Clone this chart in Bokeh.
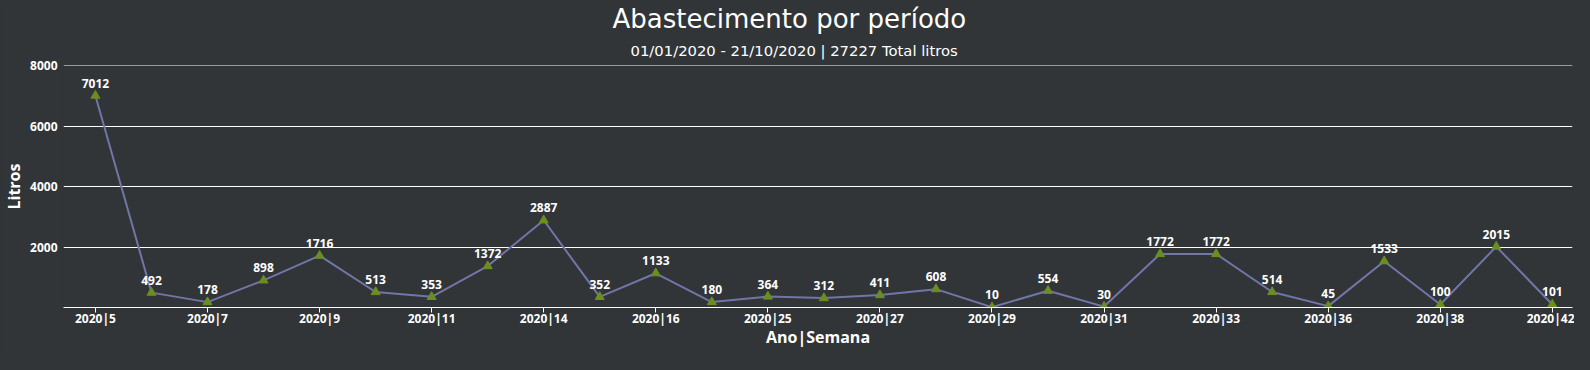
from bokeh.plotting import figure
from bokeh.models import Title, FixedTicker, Range1d, ColumnDataSource
from bokeh.core.properties import value
from bokeh.embed import file_html
from bokeh.resources import INLINE

title = "Abastecimento por período"
subtitle = "01/01/2020 - 21/10/2020 | 27227 Total litros"
x_title = "Ano|Semana"
y_title = "Litros"

categories = ["2020|5", "2020|6", "2020|7", "2020|8", "2020|9", "2020|10", "2020|11",
              "2020|13", "2020|14", "2020|15", "2020|16", "2020|17", "2020|25", "2020|26",
              "2020|27", "2020|28", "2020|29", "2020|30", "2020|31", "2020|32", "2020|33",
              "2020|34", "2020|36", "2020|37", "2020|38", "2020|40", "2020|42"]
litros = [7012, 492, 178, 898, 1716, 513, 353, 1372, 2887, 352, 1133, 180, 364, 312,
          411, 608, 10, 554, 30, 1772, 1772, 514, 45, 1533, 100, 2015, 101]
y_ticks = [2000, 4000, 6000, 8000]

BG = "#313538"
FONT = "Open Sans"
TFONT = "DejaVu Sans"

xs = list(range(len(categories)))
src = ColumnDataSource(dict(x=xs, y=litros, lbl=[str(v) for v in litros]))

p = figure(width=1574, height=354, output_backend="svg", toolbar_location=None,
           x_range=Range1d(-0.57, 26.36), y_range=Range1d(0, 8010),
           min_border_left=62, min_border_right=2, min_border_top=65, min_border_bottom=47,
           background_fill_color=BG, border_fill_color=BG, outline_line_color=None)

p.title.text = title
p.title.align = "left"
p.title.vertical_align = "top"
p.title.offset = 549
p.title.text_color = "white"
p.title.text_font_size = "26px"
p.title.text_font_style = "normal"
p.title.text_font = TFONT
p.title.standoff = 4
p.add_layout(Title(text=subtitle, align="left", vertical_align="top", offset=567,
                   text_color="white", text_font_size="14.8px", text_font_style="normal",
                   text_font=TFONT, standoff=9), "above")

p.line("x", "y", source=src, line_color="#7175a8", line_width=2)
p.scatter("x", "y", source=src, marker="triangle", size=9, fill_color="#6b8e23",
          line_color="#6b8e23")
p.text("x", "y", text="lbl", source=src, y_offset=-8, text_align="center",
       text_baseline="bottom", text_color="white", text_font_size="12px",
       text_font_style="bold", text_font=value(FONT))

# axes
p.xaxis.ticker = FixedTicker(ticks=xs[::2])
p.xaxis.major_label_overrides = {i: categories[i] for i in xs}
p.xaxis.axis_line_color = "white"
p.xaxis.major_tick_line_color = "white"
p.xaxis.major_tick_out = 5
p.xaxis.major_tick_in = 0
p.xaxis.minor_tick_line_color = None
p.xaxis.major_label_standoff = -3
p.xaxis.major_label_text_color = "white"
p.xaxis.major_label_text_font_size = "12px"
p.xaxis.major_label_text_font_style = "bold"
p.xaxis.major_label_text_font = FONT
p.xaxis.axis_label = x_title
p.xaxis.axis_label_text_color = "white"
p.xaxis.axis_label_text_font_size = "16px"
p.xaxis.axis_label_text_font_style = "bold"
p.xaxis.axis_label_text_font = FONT
p.xaxis.axis_label_standoff = -4

p.yaxis.ticker = FixedTicker(ticks=y_ticks)
p.yaxis.axis_line_color = None
p.yaxis.major_tick_line_color = None
p.yaxis.minor_tick_line_color = None
p.yaxis.major_tick_out = 0
p.yaxis.major_label_standoff = 6
p.yaxis.major_label_text_color = "white"
p.yaxis.major_label_text_font_size = "12px"
p.yaxis.major_label_text_font_style = "bold"
p.yaxis.major_label_text_font = FONT
p.yaxis.axis_label = y_title
p.yaxis.axis_label_text_color = "white"
p.yaxis.axis_label_text_font_size = "16px"
p.yaxis.axis_label_text_font_style = "bold"
p.yaxis.axis_label_text_font = FONT
p.yaxis.axis_label_standoff = 2

p.xgrid.grid_line_color = None
p.ygrid.ticker = FixedTicker(ticks=y_ticks)
p.ygrid.grid_line_color = "white"
p.ygrid.grid_line_width = 1

html = file_html(p, INLINE)
html = html.replace("</head>", "<style>html, body { background: %s; }</style></head>" % BG, 1)
open("out.html", "w").write(html)
